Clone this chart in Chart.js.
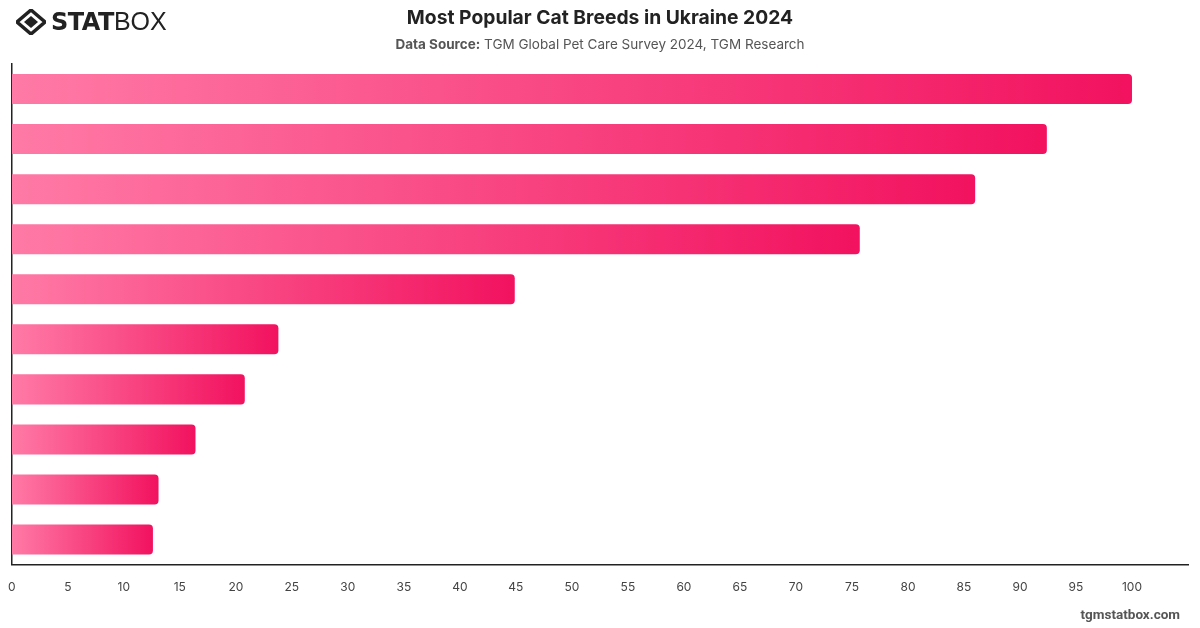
<!DOCTYPE html>
<html>
<head>
<meta charset="utf-8">
<script src="https://cdn.jsdelivr.net/npm/chart.js@4/dist/chart.umd.min.js"></script>
<style>
  html, body { margin: 0; padding: 0; background: #fff; }
  body { width: 1200px; height: 628px; position: relative; overflow: hidden; font-family: Inter, "Noto Sans", sans-serif; }
  #chartWrap { position: absolute; left: 0; top: 0; width: 1200px; height: 628px; }
  .logo { position: absolute; left: 16px; top: 7px; display: flex; align-items: center; color: #222; }
  .logo svg { margin-right: 5px; }
  .logo .stat { font-family: "DejaVu Sans", sans-serif; font-weight: 900; font-size: 24px; letter-spacing: -0.5px; }
  .logo .box { font-family: "Liberation Sans", sans-serif; font-weight: 400; font-size: 25px; }
  .title { position: absolute; top: 5px; left: 0; width: 1200px; text-align: center; font-size: 19.3px; font-weight: 700; color: #222; }
  .sub { position: absolute; top: 36px; left: 0; width: 1200px; text-align: center; font-size: 13.5px; color: #555; }
  .sub b { color: #555; }
  .footer { position: absolute; right: 20px; top: 606px; font-size: 13.5px; font-weight: 700; color: #555; font-family: Roboto, sans-serif; }
</style>
</head>
<body>
<div id="chartWrap"><canvas id="chartCanvas" width="1200" height="628"></canvas></div>
<div class="logo">
  <svg width="30" height="26" viewBox="0 0 30 26">
    <path d="M15 1 L29 13 L15 25 L1 13 Z" fill="none" stroke="#222" stroke-width="3.5"/>
    <path d="M15 7 L22 13 L15 19 L8 13 Z" fill="#222"/>
  </svg>
  <span class="stat">STAT</span><span class="box">BOX</span>
</div>
<div class="title">Most Popular Cat Breeds in Ukraine 2024</div>
<div class="sub"><b>Data Source:</b> TGM Global Pet Care Survey 2024, TGM Research</div>
<div class="footer">tgmstatbox.com</div>
<script>
// category labels are hidden in the source chart, so ranks stand in for them
const categories = ['1', '2', '3', '4', '5', '6', '7', '8', '9', '10'];
const values = [100, 92.4, 86.0, 75.7, 44.9, 23.8, 20.8, 16.4, 13.1, 12.6];
const xTicks = [0, 5, 10, 15, 20, 25, 30, 35, 40, 45, 50, 55, 60, 65, 70, 75, 80, 85, 90, 95, 100];

const colorStart = '#ff7aa6';
const colorEnd = '#f2125f';

function barGradient(context) {
  const chart = context.chart;
  if (!chart.chartArea) return colorEnd;
  const xScale = chart.scales.x;
  const v = context.raw || 0;
  const x0 = xScale.getPixelForValue(0);
  const x1 = xScale.getPixelForValue(v);
  if (x1 - x0 < 1) return colorEnd;
  const g = chart.ctx.createLinearGradient(x0, 0, x1, 0);
  g.addColorStop(0, colorStart);
  g.addColorStop(1, colorEnd);
  return g;
}

const ctx = document.getElementById('chartCanvas').getContext('2d');
new Chart(ctx, {
  type: 'bar',
  data: {
    labels: categories,
    datasets: [{
      label: 'Share',
      data: values,
      backgroundColor: barGradient,
      borderRadius: { topRight: 4, bottomRight: 4, topLeft: 0, bottomLeft: 0 },
      borderSkipped: 'start',
      barPercentage: 0.6,
      categoryPercentage: 1.0
    }]
  },
  options: {
    indexAxis: 'y',
    responsive: false,
    animation: false,
    layout: { padding: { left: 2, top: 64, right: 12, bottom: 25 } },
    plugins: {
      legend: { display: false },
      tooltip: { enabled: false }
    },
    scales: {
      x: {
        min: 0,
        max: 105,
        afterBuildTicks: axis => { axis.ticks = xTicks.map(v => ({ value: v })); },
        grid: { display: false },
        border: { display: true, color: '#222', width: 1.5 },
        ticks: {
          color: '#444',
          font: { family: 'Inter', size: 12 },
          padding: 8
        }
      },
      y: {
        grid: { display: false },
        border: { display: true, color: '#222', width: 1.5 },
        ticks: { display: false }
      }
    }
  }
});
</script>
</body>
</html>
